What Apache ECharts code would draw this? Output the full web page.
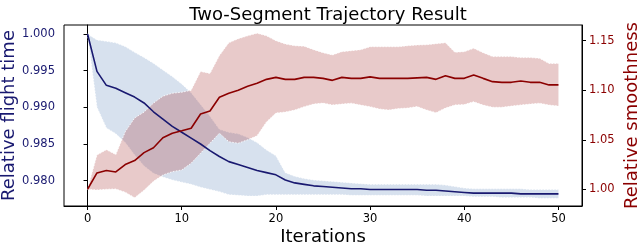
<!DOCTYPE html>
<html>
<head>
<meta charset="utf-8">
<script src="https://cdn.jsdelivr.net/npm/echarts@6/dist/echarts.min.js"></script>
<style>
html,body{margin:0;padding:0;background:#fff;}
#chart{width:640px;height:245px;}
</style>
</head>
<body>
<div id="chart"></div>
<script>
const iterations = [0,1,2,3,4,5,6,7,8,9,10,11,12,13,14,15,16,17,18,19,20,21,22,23,24,25,26,27,28,29,30,31,32,33,34,35,36,37,38,39,40,41,42,43,44,45,46,47,48,49,50];
const xTicks = [0,10,20,30,40,50];
const flightTicks = [0.980,0.985,0.990,0.995,1.000];
const smoothTicks = [1.00,1.05,1.10,1.15];

const flightMean = [1.0000,0.9949,0.9930,0.9926,0.9920,0.9914,0.9906,0.9894,0.9884,0.9874,0.9866,
  0.9858,0.9850,0.9841,0.9833,0.9826,0.9822,0.9818,0.9814,0.9811,0.9808,
  0.9801,0.9797,0.9795,0.9793,0.9792,0.9791,0.9790,0.9789,0.9789,0.9788,
  0.9788,0.9788,0.9788,0.9788,0.9788,0.9787,0.9787,0.9786,0.9785,0.9784,
  0.9783,0.9783,0.9783,0.9783,0.9783,0.9782,0.9782,0.9782,0.9782,0.9782];
const flightUpper = [1.0000,0.9992,0.9990,0.9988,0.9983,0.9975,0.9968,0.9960,0.9951,0.9942,0.9932,
  0.9920,0.9904,0.9888,0.9870,0.9866,0.9864,0.9859,0.9852,0.9842,0.9834,
  0.9811,0.9806,0.9803,0.9801,0.9800,0.9799,0.9798,0.9797,0.9796,0.9795,
  0.9795,0.9795,0.9795,0.9795,0.9795,0.9795,0.9795,0.9794,0.9792,0.9790,
  0.9789,0.9789,0.9789,0.9789,0.9789,0.9789,0.9788,0.9788,0.9788,0.9788];
const flightLower = [1.0000,0.9900,0.9872,0.9864,0.9852,0.9835,0.9820,0.9810,0.9805,0.9801,0.9798,
  0.9795,0.9791,0.9788,0.9785,0.9781,0.9780,0.9779,0.9779,0.9781,0.9781,
  0.9781,0.9781,0.9781,0.9781,0.9781,0.9781,0.9781,0.9780,0.9780,0.9780,
  0.9780,0.9780,0.9780,0.9780,0.9780,0.9779,0.9779,0.9779,0.9779,0.9779,
  0.9778,0.9778,0.9778,0.9777,0.9777,0.9777,0.9777,0.9776,0.9776,0.9776];

const smoothMean = [1.000,1.0165,1.019,1.0175,1.025,1.029,1.037,1.042,1.052,1.0566,1.059,
  1.0616,1.076,1.079,1.093,1.097,1.100,1.104,1.107,1.111,1.113,
  1.111,1.111,1.113,1.113,1.112,1.110,1.113,1.112,1.112,1.1135,
  1.112,1.112,1.112,1.112,1.1125,1.113,1.111,1.1147,1.112,1.112,
  1.1155,1.112,1.1087,1.108,1.108,1.1094,1.108,1.108,1.1054,1.1054];
const smoothUpper = [1.000,1.0346,1.040,1.035,1.058,1.072,1.078,1.087,1.094,1.097,1.098,
  1.100,1.119,1.117,1.135,1.148,1.152,1.155,1.1576,1.155,1.150,
  1.1467,1.145,1.1445,1.141,1.138,1.1356,1.139,1.140,1.141,1.144,
  1.144,1.144,1.144,1.145,1.1457,1.146,1.147,1.148,1.1384,1.139,
  1.1424,1.138,1.134,1.134,1.134,1.133,1.133,1.1323,1.127,1.127];
const smoothLower = [1.000,0.9993,1.000,1.0003,0.997,0.9915,0.999,1.008,1.0144,1.0178,1.0195,
  1.0263,1.0364,1.0465,1.0566,1.048,1.0465,1.050,1.054,1.068,1.077,
  1.078,1.080,1.0834,1.086,1.087,1.0852,1.086,1.0869,1.085,1.0834,
  1.081,1.080,1.0815,1.082,1.0835,1.080,1.0774,1.082,1.0852,1.0855,
  1.0885,1.085,1.0828,1.0828,1.084,1.0852,1.086,1.0869,1.085,1.0841];

const pairs = (ys) => iterations.map((x, k) => [x, ys[k]]);

const FONT = 'DejaVu Sans';
const NAVY = '#191970';
const DARKRED = '#8b0000';

// Band drawn as one polygon through the axis scales (api.coord)
function bandRenderer(upper, lower, fill) {
  return function (params, api) {
    if (params.dataIndex !== 0) return null;
    const top = iterations.map((x, k) => api.coord([x, upper[k]]));
    const bot = iterations.map((x, k) => api.coord([x, lower[k]]));
    const poly = top.concat(bot.slice().reverse());
    const edgeStyle = {stroke: 'rgba(255,255,255,0.85)', lineWidth: 1, lineDash: [1.5, 1.5], fill: null};
    return {
      type: 'group',
      children: [
        {type: 'polygon', shape: {points: poly}, style: {fill: fill, stroke: null}},
        {type: 'polyline', shape: {points: top}, style: edgeStyle},
        {type: 'polyline', shape: {points: bot}, style: edgeStyle}
      ]
    };
  };
}

const chart = echarts.init(document.getElementById('chart'), null, {renderer: 'canvas'});
chart.setOption({
  animation: false,
  backgroundColor: '#fff',
  textStyle: {fontFamily: FONT},
  title: {
    text: 'Two-Segment Trajectory Result',
    left: 323, top: 1, textAlign: 'center',
    textStyle: {fontFamily: FONT, fontSize: 18, fontWeight: 'normal', color: '#000'}
  },
  grid: {left: 64, right: 58, top: 25, bottom: 39, show: true, borderColor: '#000', borderWidth: 1,
    backgroundColor: 'transparent', containLabel: false, outerBoundsMode: 'none'},
  xAxis: {
    type: 'value', min: -2.5, max: 52.5,
    name: 'Iterations', nameLocation: 'middle', nameGap: 22, nameMoveOverlap: false,
    nameTextStyle: {fontFamily: FONT, fontSize: 18, color: '#000'},
    axisLine: {show: true, lineStyle: {color: '#000', width: 1}},
    axisTick: {show: true, length: 4, customValues: xTicks, lineStyle: {color: '#000'}},
    axisLabel: {customValues: xTicks, margin: 7, fontFamily: FONT, fontSize: 11.5, color: '#000'},
    splitLine: {show: false}
  },
  yAxis: [{
    type: 'value', min: 0.97655, max: 1.00123, position: 'left',
    name: 'Relative flight time', nameLocation: 'middle', nameGap: 46, nameMoveOverlap: false,
    nameTextStyle: {fontFamily: FONT, fontSize: 18, color: NAVY},
    axisLine: {show: true, lineStyle: {color: '#000', width: 1}},
    axisTick: {show: true, length: 4, customValues: flightTicks, lineStyle: {color: '#000'}},
    axisLabel: {customValues: flightTicks, margin: 9, fontFamily: FONT, fontSize: 11.5, color: NAVY,
      formatter: v => v.toFixed(3)},
    splitLine: {show: false}
  }, {
    type: 'value', min: 0.9831, max: 1.1659, position: 'right',
    name: 'Relative smoothness', nameLocation: 'middle', nameGap: 41, nameMoveOverlap: false,
    nameTextStyle: {fontFamily: FONT, fontSize: 18, color: DARKRED},
    axisLine: {show: true, lineStyle: {color: '#000', width: 1}},
    axisTick: {show: true, length: 4, customValues: smoothTicks, lineStyle: {color: '#000'}},
    axisLabel: {customValues: smoothTicks, margin: 7, fontFamily: FONT, fontSize: 11.5, color: DARKRED,
      formatter: v => v.toFixed(2)},
    splitLine: {show: false}
  }],
  series: [
    {type: 'custom', name: 'flightBand', yAxisIndex: 0, data: pairs(flightMean), clip: true, z: 2, silent: true,
      renderItem: bandRenderer(flightUpper, flightLower, 'rgba(176,196,222,0.5)')},
    {type: 'custom', name: 'smoothBand', yAxisIndex: 1, data: pairs(smoothMean), clip: true, z: 3, silent: true,
      renderItem: bandRenderer(smoothUpper, smoothLower, 'rgba(165,42,42,0.25)')},
    {type: 'line', name: 'flightMean', yAxisIndex: 0, data: pairs(flightMean),
      symbol: 'none', lineStyle: {color: NAVY, width: 1.6}, z: 5, silent: true},
    {type: 'line', name: 'smoothMean', yAxisIndex: 1, data: pairs(smoothMean),
      symbol: 'none', lineStyle: {color: DARKRED, width: 1.6}, z: 5, silent: true}
  ]
});
</script>
</body>
</html>
